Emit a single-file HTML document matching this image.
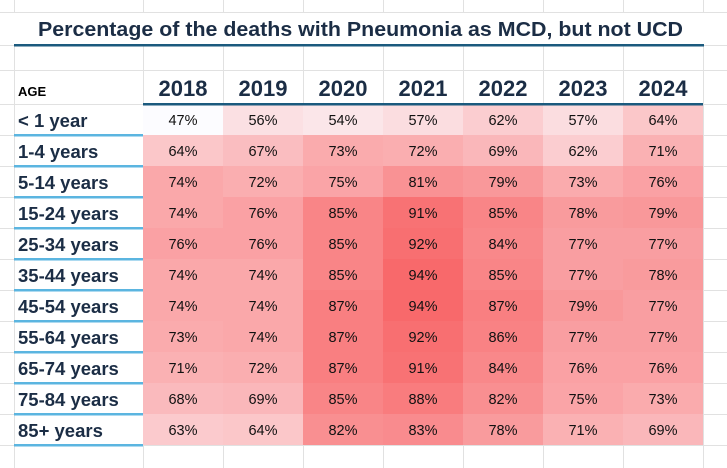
<!DOCTYPE html>
<html><head><meta charset="utf-8"><style>
html,body{margin:0;padding:0;background:#fff;}
svg{display:block;font-family:"Liberation Sans",sans-serif;}
</style></head><body>
<svg id="chart" width="727" height="468"></svg>
<script>
const years = ["2018","2019","2020","2021","2022","2023","2024"];
const ages = ["< 1 year","1-4 years","5-14 years","15-24 years","25-34 years","35-44 years","45-54 years","55-64 years","65-74 years","75-84 years","85+ years"];
const r0 = [47,56,54,57,62,57,64];
const r1 = [64,67,73,72,69,62,71];
const r2 = [74,72,75,81,79,73,76];
const r3 = [74,76,85,91,85,78,79];
const r4 = [76,76,85,92,84,77,77];
const r5 = [74,74,85,94,85,77,78];
const r6 = [74,74,87,94,87,79,77];
const r7 = [73,74,87,92,86,77,77];
const r8 = [71,72,87,91,84,76,76];
const r9 = [68,69,85,88,82,75,73];
const r10 = [63,64,82,83,78,71,69];
const values = [r0,r1,r2,r3,r4,r5,r6,r7,r8,r9,r10];

const NS="http://www.w3.org/2000/svg";
const svg=document.getElementById('chart');
function mk(t,a,p){const e=document.createElementNS(NS,t);for(const k in a)e.setAttribute(k,a[k]);(p||svg).appendChild(e);return e;}
const labelX0=14, colX0=143, colW=80, rowY0=104, rowH=31;
const xCol=i=>colX0+i*colW;
const yRow=j=>rowY0+j*rowH;
const all=values.flat();
const vmin=Math.min(...all), vmax=Math.max(...all);
function color(v){const t=(v-vmin)/(vmax-vmin);const a=[252,252,255],b=[248,105,107];return `rgb(${a.map((c,i)=>Math.round(c+(b[i]-c)*t)).join(',')})`;}

const g=mk('g',{});


const vx=[labelX0,colX0]; for(let i=1;i<=years.length;i++) vx.push(xCol(i));
vx.forEach(x=>{mk('line',{x1:x+.5,y1:0,x2:x+.5,y2:12,stroke:'#e1e1e1'},g);mk('line',{x1:x+.5,y1:45,x2:x+.5,y2:468,stroke:'#e1e1e1'},g);});
[12,45,70].forEach(y=>mk('line',{x1:0,y1:y+.5,x2:727,y2:y+.5,stroke:'#e1e1e1'},g));
for(let j=0;j<=ages.length+1;j++){const y=yRow(j);mk('line',{x1:0,y1:y+.5,x2:727,y2:y+.5,stroke:'#e1e1e1'},g);}

const title=mk('text',{x:38,y:36,'font-size':20,'font-weight':'bold',fill:'#1b2d45',textLength:645,lengthAdjust:'spacingAndGlyphs'});
title.textContent='Percentage of the deaths with Pneumonia as MCD, but not UCD';


mk('rect',{x:14,y:44,width:690,height:2.5,fill:'#1b5a7e'});

const ageH=mk('text',{x:18,y:96,'font-size':13,'font-weight':'bold',fill:'#000'});
ageH.textContent='AGE';



years.forEach((yr,i)=>{const t=mk('text',{x:xCol(i)+colW/2,y:96,'text-anchor':'middle','font-size':22,'font-weight':'bold',fill:'#1b2d45'});t.textContent=yr;

});

values.forEach((row,j)=>{
  row.forEach((v,i)=>{
    const r=mk('rect',{x:xCol(i),y:yRow(j),width:colW,height:rowH,fill:color(v)});
    
    
    const t=mk('text',{x:xCol(i)+colW/2,y:yRow(j)+21,'text-anchor':'middle','font-size':14.5,fill:'#111'});
    t.textContent=v+'%';
    
    
  });
  const l=mk('text',{x:18,y:yRow(j)+23,'font-size':18.5,'font-weight':'bold',fill:'#1b2d45'});
  l.textContent=ages[j];
  
  
  mk('rect',{x:labelX0,y:yRow(j+1)-1,width:colX0-labelX0,height:2.5,fill:'#5bb5e0'});
});
mk('rect',{x:colX0,y:103,width:years.length*colW,height:2.5,fill:'#1b5a7e'});
</script>
</body></html>
